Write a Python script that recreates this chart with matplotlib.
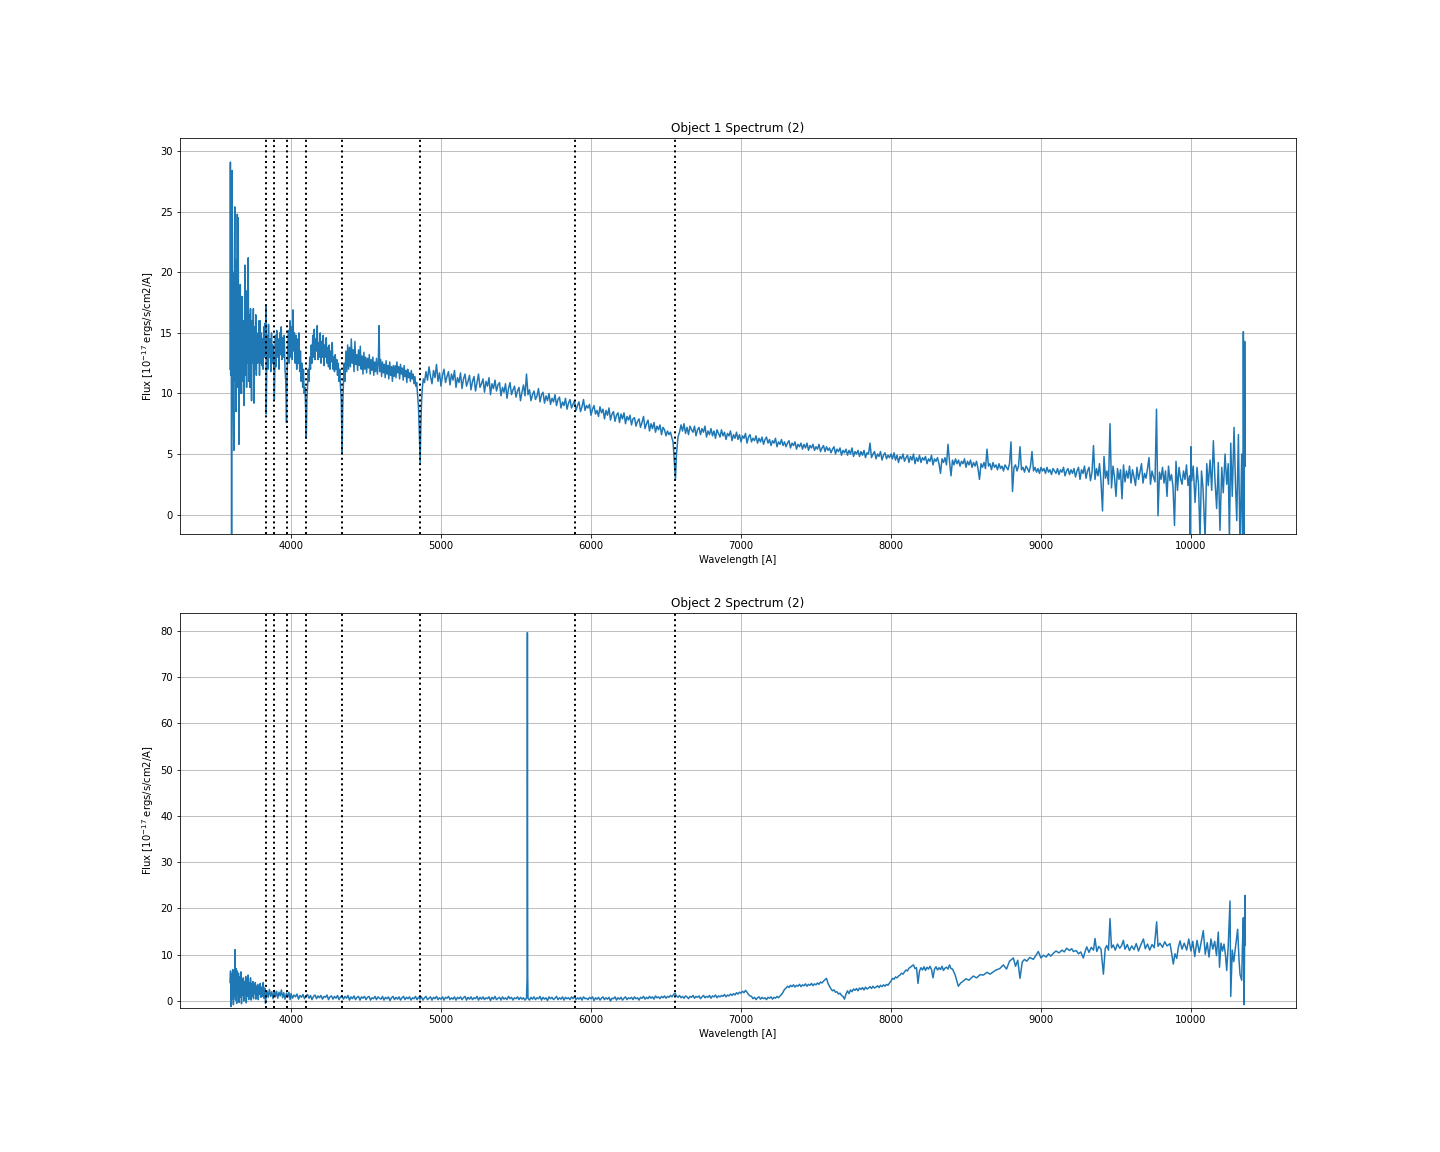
import numpy as np
import matplotlib.pyplot as plt

# spectral lines marked on both panels (H9, H8, Heps, Hdelta, Hgamma, Hbeta, NaD, Halpha)
lines = [3835, 3889, 3970, 4102, 4341, 4861, 5893, 6563]

# ---------------- object 1 ----------------
w1 = []
f1 = []
# blue end, very noisy
w1 += [3594, 3596, 3598, 3600, 3602, 3604, 3606, 3608, 3610, 3613,
       3616, 3619, 3622, 3625, 3628, 3631, 3634, 3637, 3640, 3642,
       3645, 3648, 3651, 3653, 3656, 3659, 3662, 3666, 3670, 3674,
       3678, 3682, 3686, 3688, 3691, 3693, 3696, 3700, 3704, 3708,
       3712, 3715, 3718, 3722, 3726, 3730, 3734, 3737, 3741, 3745,
       3749, 3753, 3757, 3761, 3765, 3769, 3773, 3777, 3782, 3786,
       3790, 3794, 3798, 3802, 3806, 3810, 3814, 3818, 3822, 3826,
       3830, 3833, 3835, 3838]
f1 += [12.0, 29.1, 11.5, 27.0, 13.0, -8.0, 15.0, 28.4, 12.5, 20.0,
       9.0, 5.3, 18.0, 25.4, 11.0, 21.0, 8.5, 17.0, 12.0, 24.8,
       10.5, 24.5, 13.0, 5.8, 16.5, 10.0, 19.0, 12.5, 10.0, 18.0,
       11.0, 16.0, 12.0, 9.0, 17.5, 20.6, 11.5, 16.0, 10.5, 18.5,
       12.5, 21.2, 11.0, 16.5, 10.5, 17.0, 12.0, 9.4, 16.0, 12.5,
       17.0, 9.2, 15.5, 12.0, 16.5, 11.5, 15.0, 12.5, 13.0, 16.0,
       11.5, 16.0, 12.5, 15.0, 12.3, 14.5, 12.0, 15.5, 13.0, 15.8,
       13.2, 17.2, 8.3, 12.0]
# H8, Heps
w1 += [3842, 3846, 3850, 3855, 3860, 3865, 3870, 3875, 3880, 3884,
       3887, 3889, 3892, 3896, 3900, 3905, 3910, 3915, 3920, 3925,
       3930, 3935, 3940, 3945, 3950, 3955, 3960, 3965, 3970, 3974,
       3978, 3983, 3988, 3993, 3998]
f1 += [14.8, 12.0, 15.7, 13.0, 14.5, 11.8, 15.0, 12.5, 14.0, 12.8,
       11.5, 9.5, 12.0, 14.8, 12.2, 15.2, 13.0, 14.5, 12.0, 15.0,
       13.2, 15.5, 12.8, 14.6, 13.0, 14.8, 12.0, 11.0, 7.6, 11.5,
       13.5, 15.2, 12.5, 16.0, 13.0]
# Hdelta
w1 += [4003, 4008, 4013, 4018, 4023, 4028, 4033, 4038, 4043, 4048,
       4053, 4058, 4063, 4068, 4073, 4078, 4083, 4088, 4093, 4097,
       4102, 4106, 4110, 4115, 4120, 4125, 4130, 4135]
f1 += [15.5, 12.8, 16.9, 13.5, 15.0, 12.5, 14.8, 12.0, 14.5, 12.5,
       15.0, 11.8, 13.5, 11.0, 12.5, 10.5, 12.0, 10.0, 10.5, 9.0,
       6.3, 9.5, 10.5, 12.0, 11.0, 13.0, 12.0, 14.0]
# Hgamma
w1 += [4140, 4145, 4150, 4155, 4160, 4165, 4170, 4175, 4180, 4185,
       4190, 4195, 4200, 4205, 4210, 4215, 4220, 4225, 4230, 4235,
       4240, 4245, 4250, 4255, 4260, 4265, 4270, 4275, 4280, 4285,
       4290, 4295, 4300, 4305, 4310, 4315, 4320, 4325, 4330, 4335,
       4341, 4345, 4350, 4355]
f1 += [12.5, 14.8, 13.0, 15.3, 12.8, 14.5, 13.5, 15.6, 12.8, 14.2,
       13.0, 15.0, 12.5, 14.3, 13.0, 14.8, 12.3, 14.0, 13.0, 14.6,
       12.5, 13.8, 12.2, 14.0, 12.0, 13.5, 12.6, 14.2, 12.0, 13.0,
       11.8, 13.2, 12.0, 12.8, 11.5, 12.5, 11.0, 12.0, 10.5, 9.5,
       5.0, 9.0, 11.0, 12.5]
# Hbeta
w1 += [4360, 4366, 4372, 4378, 4384, 4390, 4396, 4402, 4408, 4414,
       4420, 4426, 4432, 4438, 4444, 4450, 4456, 4462, 4468, 4474,
       4480, 4486, 4492, 4498, 4504, 4510, 4516, 4522, 4528, 4534,
       4540, 4546, 4552, 4558, 4564, 4570, 4576, 4582, 4587, 4592,
       4598, 4604, 4610, 4616, 4622, 4628, 4634, 4640, 4646, 4652,
       4658, 4664, 4670, 4676, 4682, 4688, 4694, 4700, 4706, 4712,
       4718, 4724, 4730, 4736, 4742, 4748, 4754, 4760, 4766, 4772,
       4778, 4784, 4790, 4796, 4802, 4808, 4814, 4820, 4826, 4832,
       4838, 4844, 4850, 4855, 4861, 4866, 4871, 4876, 4882]
f1 += [11.0, 13.5, 11.8, 14.0, 12.0, 13.8, 12.2, 14.5, 12.5, 13.6,
       11.8, 14.3, 12.4, 13.2, 11.9, 13.6, 12.3, 13.9, 12.0, 13.1,
       11.6, 13.4, 12.0, 13.0, 11.7, 12.9, 12.1, 13.2, 11.6, 12.8,
       11.9, 13.0, 11.5, 12.6, 11.8, 12.9, 11.6, 12.5, 15.6, 11.8,
       12.8, 11.4, 12.6, 11.7, 12.4, 11.3, 12.7, 11.6, 12.3, 11.2,
       12.6, 11.5, 12.2, 11.0, 12.3, 11.4, 12.3, 11.3, 12.6, 11.7,
       12.2, 11.2, 12.4, 11.6, 12.1, 11.1, 12.3, 11.4, 11.9, 10.9,
       12.0, 11.3, 11.7, 11.0, 11.9, 11.2, 11.6, 10.8, 11.4, 10.6,
       10.9, 9.8, 8.8, 7.0, 4.3, 7.5, 9.5, 10.5, 11.2]
# Hbeta to Halpha, 10 A steps
w1 += list(np.arange(4890, 6541, 10))
f1 += [10.9, 11.8, 11.1, 12.2, 11.4, 10.8, 11.9, 11.3, 12.4, 11.0,
       11.7, 10.6, 11.5, 12.0, 10.9, 11.4, 11.8, 10.7, 11.6, 11.1,
       11.9, 10.5, 11.3, 10.9, 11.7, 10.4, 11.2, 11.6, 10.6, 11.0,
       11.5, 10.3, 11.0, 11.4, 10.2, 10.9, 11.6, 10.5, 10.8, 11.2,
       10.1, 11.0, 10.6, 11.3, 9.9, 10.8, 10.4, 11.1, 10.2, 10.7,
       10.9, 9.8, 10.5, 10.1, 10.8, 9.6, 10.4, 10.9, 9.9, 10.3,
       10.6, 9.7, 10.2, 10.5, 9.4, 10.1, 10.7, 9.8, 11.6, 9.9,
       10.3, 9.4, 9.9, 10.2, 9.5, 9.8, 10.4, 9.3, 9.9, 10.1,
       9.2, 9.8, 9.4, 10.0, 9.1, 9.6, 9.3, 9.9, 9.0, 9.5,
       9.7, 8.8, 9.3, 9.0, 9.6, 8.7, 9.2, 9.5, 8.8, 9.1,
       9.4, 8.6, 9.0, 9.3, 8.5, 8.9, 9.5, 8.6, 9.0, 8.8,
       9.1, 8.2, 8.7, 9.0, 8.3, 8.6, 8.1, 8.9, 8.4, 8.7,
       7.9, 8.6, 8.2, 8.8, 7.8, 8.3, 8.5, 7.7, 8.2, 8.4,
       7.6, 8.3, 7.9, 8.4, 7.5, 8.1, 7.8, 8.2, 7.4, 7.9,
       8.0, 7.3, 7.7, 7.9, 7.2, 7.6, 8.1, 7.1, 7.5, 7.8,
       6.9, 7.5, 7.1, 7.6, 6.8, 7.3, 7.0, 7.4, 6.6, 7.2,
       7.0, 6.5, 6.9, 6.6, 6.8, 6.3]
# Halpha
w1 += [6547, 6555, 6563, 6570, 6580]
f1 += [6.0, 4.5, 2.9, 5.0, 6.4]
# red continuum
w1 += list(np.arange(6590, 8001, 10))
f1 += [6.8, 7.4, 6.9, 7.5, 6.7, 7.2, 6.6, 7.3, 7.0, 6.8,
       7.3, 6.5, 7.0, 7.2, 6.6, 7.1, 6.8, 7.3, 6.4, 6.9,
       6.6, 7.1, 6.5, 6.9, 6.3, 7.0, 6.7, 6.4, 7.0, 6.5,
       6.8, 6.2, 6.7, 6.5, 6.9, 6.1, 6.6, 6.3, 6.8, 6.2,
       6.6, 6.0, 6.5, 6.3, 6.7, 5.9, 6.4, 6.6, 6.0, 6.3,
       6.1, 6.5, 5.9, 6.3, 6.0, 6.4, 5.8, 6.2, 6.4, 5.9,
       6.2, 5.7, 6.1, 5.9, 6.3, 5.6, 6.0, 5.8, 6.2, 5.7,
       6.0, 5.6, 5.9, 6.1, 5.5, 5.9, 5.7, 6.0, 5.4, 5.8,
       5.6, 5.9, 5.4, 5.8, 5.5, 5.9, 5.3, 5.7, 5.5, 5.8,
       5.3, 5.6, 5.4, 5.8, 5.2, 5.5, 5.7, 5.2, 5.6, 5.3,
       5.5, 5.1, 5.4, 5.6, 5.0, 5.4, 5.2, 5.5, 4.9, 5.3,
       5.1, 5.4, 4.9, 5.3, 5.0, 5.5, 4.8, 5.2, 5.0, 5.3,
       4.8, 5.2, 4.9, 5.3, 4.7, 5.1, 5.0, 5.9, 4.7, 5.0,
       5.2, 4.6, 5.0, 4.8, 5.2, 4.5, 4.9, 5.1, 4.6, 4.9,
       4.7, 5.0]
w1 += list(np.arange(8010, 9991, 10))
f1 += [4.6, 5.1, 4.5, 4.9, 4.3, 4.8, 4.6, 5.0, 4.4, 4.7,
       4.9, 4.3, 4.8, 4.5, 5.0, 4.2, 4.7, 4.4, 4.9, 4.3,
       4.7, 4.5, 4.8, 4.2, 4.6, 4.4, 4.9, 4.1, 4.6, 4.4,
       4.7, 4.2, 3.4, 4.6, 4.3, 4.7, 4.1, 5.8, 4.4, 3.2,
       4.5, 4.1, 4.6, 4.2, 4.5, 4.0, 4.4, 4.2, 4.6, 3.9,
       4.4, 4.1, 4.5, 3.9, 4.3, 4.0, 4.4, 3.8, 2.9, 4.2,
       3.9, 4.3, 3.8, 5.4, 4.0, 4.2, 3.7, 4.3, 3.9, 4.1,
       3.7, 4.2, 3.8, 4.0, 3.6, 4.1, 3.9, 3.7, 4.2, 6.0,
       1.9, 3.9, 4.1, 3.6, 4.0, 5.6, 3.7, 3.9, 3.5, 4.0,
       3.8, 3.5, 4.0, 5.2, 3.6, 3.9, 3.5, 3.8, 3.4, 3.9,
       3.6, 3.8, 3.4, 3.9, 3.5, 3.7, 3.3, 3.8, 3.6, 3.4,
       3.8, 3.3, 3.7, 3.5, 3.9, 3.2, 3.6, 3.8, 3.3, 3.7,
       3.4, 3.8, 3.1, 3.6, 3.9, 2.9, 3.7, 3.4, 4.0, 3.0,
       3.6, 3.9, 2.8, 3.5, 5.7, 2.9, 3.8, 3.2, 4.2, 2.7,
       0.3, 4.8, 3.0, 3.6, 2.5, 7.5, 2.2, 4.0, 3.1, 1.5,
       3.8, 2.9, 3.7, 1.3, 4.1, 2.7, 3.6, 3.0, 4.0, 2.6,
       3.7, 3.1, 2.4, 3.9, 2.9, 3.5, 4.2, 2.6, 3.4, 3.0,
       3.8, 4.7, 2.5, 3.6, 3.1, 2.7, 8.7, -0.1, 3.5, 2.9,
       3.9, 2.6, 3.6, 1.5, 4.0, 2.8, 3.3, 2.3, -0.9, 4.4,
       2.0, 3.9, 3.0, 2.5, 3.6, 2.9, 4.1, 2.4, 3.2]
# noisy red end
w1 += [9995, 9999, 10005, 10015, 10027, 10040, 10050, 10060, 10070, 10080,
       10094, 10105, 10115, 10127, 10138, 10149, 10160, 10171, 10182, 10193,
       10205, 10215, 10227, 10238, 10248, 10256, 10265, 10275, 10287, 10297,
       10305, 10316, 10327, 10338, 10345, 10349, 10354, 10358, 10362]
f1 += [-2.5, 5.6, 2.8, 4.0, 1.0, 3.9, 2.5, -2.0, 3.6, 2.2,
       -2.0, 4.2, 2.4, 4.5, 2.0, 6.1, 2.8, 0.5, 4.3, -1.3,
       3.9, 1.8, 5.0, 2.5, 4.2, -2.0, 5.9, 1.5, 7.2, 2.3,
       -0.5, 6.6, -3.0, 5.0, -3.0, 15.1, -2.0, 14.3, 4.0]

# ---------------- object 2 ----------------
w2 = []
f2 = []
w2 += [3594, 3597, 3600, 3604, 3608, 3612, 3616, 3620, 3624, 3627,
       3630, 3634, 3638, 3642, 3646, 3650, 3654, 3658, 3662, 3666,
       3670, 3674, 3678, 3682, 3686, 3690, 3694, 3698, 3702, 3706,
       3710, 3714, 3718, 3722, 3726, 3730, 3734, 3738, 3742, 3746,
       3750, 3754, 3758, 3762, 3766, 3770, 3774, 3778, 3782, 3786,
       3790, 3795, 3800, 3805, 3810, 3815, 3820, 3825, 3830, 3835]
f2 += [4.0, 6.5, -1.2, 5.8, 0.5, 6.8, -0.8, 5.5, 1.0, 11.1,
       0.2, 7.0, -0.5, 6.5, 1.5, 6.0, -0.3, 5.2, 0.8, 6.3,
       -0.6, 4.5, 1.2, 5.0, 0.0, 4.2, 1.5, 5.3, -0.4, 4.8,
       1.0, 5.6, 0.3, 4.0, 1.4, 5.0, 0.2, 3.8, 1.0, 4.2,
       0.5, 3.5, 1.6, 4.0, 0.4, 3.2, 1.2, 3.6, 0.3, 3.0,
       1.5, 3.8, 0.8, 3.0, 1.0, 4.0, 0.6, 2.8, -0.5, 1.2]
w2 += [3840, 3848, 3856, 3864, 3872, 3880, 3889, 3896, 3904, 3912,
       3920, 3928, 3936, 3944, 3952, 3960, 3970, 3978, 3986, 3994]
f2 += [2.2, 0.8, 2.5, 1.0, 2.0, 0.5, 2.3, 0.9, 2.1, 0.6,
       1.9, 1.1, 2.4, 0.7, 1.8, 0.4, 1.7, 0.8, 1.9, 0.3]
# flat blue continuum
w2 += list(np.arange(4000, 5571, 10))
f2 += [1.6, 0.6, 1.3, 0.9, 1.5, 0.4, 1.2, 0.8, 1.4, 0.5,
       1.1, 1.4, 0.6, 1.2, 0.3, 1.0, 1.3, 0.5, 1.1, 0.7,
       1.2, 0.4, 1.0, 0.8, 1.3, 0.3, 0.9, 1.1, 0.4, 1.0,
       0.6, 1.2, 0.3, 0.9, 1.1, 0.4, 1.0, 0.6, 1.2, 0.2,
       0.9, 0.5, 1.1, 0.3, 0.8, 1.0, 0.2, 0.9, 0.6, 1.0,
       0.3, 0.8, 1.0, 0.2, 0.7, 0.5, 1.0, 0.3, 0.9, 0.6,
       0.4, 1.0, 0.2, 0.8, 0.5, 0.9, 0.1, 0.7, 1.0, 0.3,
       0.8, 0.4, 0.9, 0.2, 0.7, 1.0, 0.3, 0.8, 0.5, 0.9,
       0.2, 0.7, 0.5, 1.0, 0.3, 0.8, 0.4, 0.9, 0.2, 0.7,
       1.0, 0.3, 0.6, 0.9, 0.2, 0.8, 0.5, 1.0, 0.3, 0.7,
       0.4, 0.9, 0.2, 0.8, 0.6, 1.0, 0.3, 0.7, 0.4, 0.9,
       0.2, 0.8, 0.5, 0.9, 0.3, 0.7, 1.0, 0.2, 0.8, 0.4,
       0.9, 0.3, 0.7, 0.5, 1.0, 0.2, 0.8, 0.4, 0.9, 0.3,
       0.7, 0.5, 0.9, 0.1, 0.8, 0.4, 1.0, 0.3, 0.6, 0.8,
       0.2, 0.9, 0.4, 0.7, 0.3, 1.0, 0.5, 0.8, 0.2, 0.7,
       0.5, 0.9, 0.3, 0.8, 0.4, 0.7, 0.2, 0.6]
# 5577 sky line
w2 += [5574, 5576, 5578]
f2 += [5.0, 79.6, 6.0]
w2 += list(np.arange(5580, 7061, 10))
f2 += [0.6, 0.2, 0.8, 0.4, 0.9, 0.3, 0.7, 0.5, 1.0, 0.2,
       0.8, 0.4, 0.7, 0.1, 0.9, 0.5, 0.8, 0.3, 0.6, 1.0,
       0.3, 0.7, 0.4, 0.9, 0.2, 0.8, 0.5, 0.7, 0.3, 0.9,
       0.5, 1.0, 0.3, 0.7, 0.4, 0.8, 0.2, 0.9, 0.5, 0.6,
       0.3, 0.8, 0.5, 0.9, 0.1, 0.7, 0.4, 0.8, 0.2, 0.6,
       0.9, 0.3, 0.7, 0.4, 0.8, 0.0, 0.6, 0.5, 0.9, 0.2,
       0.7, 0.4, 0.8, 0.2, 0.6, 0.9, 0.3, 0.7, 0.5, 0.8,
       0.3, 0.9, 0.5, 0.7, 0.2, 0.8, 0.6, 1.0, 0.4, 0.8,
       0.5, 1.0, 0.6, 0.9, 0.4, 1.1, 0.7, 0.9, 0.5, 1.0,
       0.7, 1.1, 0.6, 1.0, 0.8, 1.2, 0.9, 1.4, 1.7, 1.1,
       0.8, 1.2, 0.7, 1.0, 0.6, 1.1, 0.9, 0.5, 1.0, 0.8,
       1.2, 0.6, 1.0, 0.8, 1.1, 0.5, 0.9, 1.2, 0.7, 1.0,
       0.8, 1.2, 0.6, 1.1, 0.9, 1.3, 0.7, 1.1, 0.9, 1.2,
       1.0, 1.4, 0.9, 1.3, 1.1, 1.5, 1.2, 1.6, 1.3, 1.8,
       1.5, 1.9, 1.7, 2.1, 1.8, 2.3, 1.9, 1.4, 1.1]
# molecular band region
w2 += list(np.arange(7070, 8401, 10))
f2 += [1.0, 0.5, 0.8, 0.3, 0.7, 0.9, 0.4, 0.8, 0.5, 0.7,
       0.3, 0.8, 0.6, 0.9, 0.4, 0.8, 0.6, 1.0, 0.7, 1.1,
       1.4, 1.9, 2.5, 2.8, 3.2, 2.9, 3.4, 3.1, 3.5, 3.0,
       3.4, 3.2, 3.6, 3.1, 3.5, 3.3, 3.7, 3.2, 3.6, 3.4,
       3.8, 3.3, 3.7, 3.5, 3.9, 3.6, 4.1, 3.9, 4.3, 4.6,
       4.9, 3.8, 3.2, 2.6, 2.2, 2.4, 1.9, 2.0, 1.5, 1.7,
       1.2, 1.0, 0.4, 1.5, 2.2, 1.6, 2.4, 2.0, 2.6, 2.3,
       2.7, 2.2, 2.8, 2.5, 2.9, 2.4, 3.0, 2.6, 2.8, 3.1,
       2.7, 3.2, 2.8, 3.0, 3.3, 2.9, 3.4, 3.1, 3.5, 3.2,
       3.6, 3.4, 3.9, 4.3, 4.9, 4.7, 5.2, 5.0, 5.4, 5.6,
       6.0, 5.8, 6.3, 6.7, 6.5, 7.1, 7.3, 7.6, 7.8, 7.0,
       7.2, 3.8, 6.5, 7.2, 6.7, 7.4, 6.6, 7.3, 6.9, 7.5,
       6.8, 5.0, 6.9, 7.4, 6.7, 7.2, 6.8, 7.5, 6.6, 7.1,
       7.3, 6.9, 7.8, 7.0]
w2 += [8410, 8427, 8440, 8449, 8465, 8482, 8500, 8520, 8549, 8570,
       8595, 8616, 8640, 8660, 8682, 8700, 8725, 8749, 8770, 8790,
       8816, 8830, 8845, 8860, 8875, 8890, 8905, 8925, 8949, 8965,
       8982, 9000, 9016, 9035, 9050, 9065, 9082, 9100, 9120, 9140,
       9155, 9171, 9190, 9205, 9216, 9235, 9250, 9265, 9282, 9295,
       9305, 9320, 9335, 9350, 9360, 9372, 9385, 9400, 9416, 9428,
       9438, 9450, 9460, 9470, 9482, 9495, 9510, 9525, 9538, 9549,
       9560, 9575, 9590, 9605, 9620, 9635, 9650, 9665, 9683, 9695,
       9710, 9725, 9740, 9755, 9771, 9780, 9793, 9810, 9825, 9840,
       9860, 9870, 9882, 9893, 9905, 9915, 9927, 9940, 9955, 9971]
f2 += [6.9, 5.7, 4.2, 3.2, 3.9, 4.3, 4.8, 4.5, 5.4, 5.0,
       5.7, 5.6, 6.2, 5.8, 6.3, 6.7, 7.0, 7.8, 6.9, 8.6,
       9.3, 7.5, 8.8, 4.9, 8.4, 9.0, 8.6, 9.4, 9.0, 9.8,
       10.7, 9.3, 9.9, 9.5, 10.2, 9.7, 10.3, 10.8, 10.4, 11.0,
       10.6, 11.4, 10.9, 11.3, 10.7, 10.9, 10.2, 10.6, 9.3, 10.8,
       11.7, 10.5, 11.6, 11.0, 13.5, 10.7, 11.8, 11.2, 5.8, 11.3,
       12.0, 11.0, 17.8, 11.5, 12.1, 11.0, 12.3, 11.4, 12.0, 13.1,
       11.2, 12.2, 10.9, 11.9, 11.1, 12.4, 10.8, 12.1, 13.4, 11.3,
       12.3, 11.0, 12.2, 11.5, 17.1, 11.8, 12.5, 11.6, 12.8, 11.9,
       12.4, 10.5, 8.0, 10.2, 9.2, 11.5, 13.0, 11.2, 12.5, 11.0]
w2 += [9985, 10000, 10012, 10025, 10040, 10055, 10068, 10082, 10095, 10108,
       10120, 10133, 10145, 10158, 10170, 10182, 10190, 10200, 10210, 10220,
       10230, 10238, 10248, 10260, 10265, 10275, 10285, 10293, 10302, 10311,
       10320, 10327, 10338, 10343, 10349, 10354, 10360, 10362]
f2 += [13.4, 10.8, 12.9, 9.6, 13.1, 10.5, 12.8, 15.2, 10.1, 12.6,
       9.5, 13.4, 11.2, 12.9, 9.8, 14.9, 7.3, 12.5, 10.8, 12.3,
       9.9, 6.6, 11.8, 21.6, 1.0, 11.0, 8.5, 10.7, 13.0, 15.5,
       9.0, 5.7, 4.5, 12.0, 18.0, -0.8, 22.8, 12.1]

spectra = [(w1, f1, 'Object 1 Spectrum (2)', (-1.57, 31.07)),
           (w2, f2, 'Object 2 Spectrum (2)', (-1.51, 83.9))]

fig, axes = plt.subplots(2, 1, figsize=(20, 16), dpi=72)
plt.subplots_adjust(left=0.125, right=0.9, top=0.88, bottom=0.125, hspace=0.2)

for ax, (w, f, title, yl) in zip(axes, spectra):
    ax.plot(np.array(w), np.array(f))
    for l in lines:
        ax.axvline(l, color='k', linestyle=':', linewidth=2)
    ax.set_xlim(3260, 10700)
    ax.set_ylim(yl)
    ax.grid(True)
    ax.set_title(title)
    ax.set_xlabel('Wavelength [A]')
    ax.set_ylabel('Flux [$10^{-17}$ ergs/s/cm2/A]')

plt.savefig('out.png', dpi=72)
